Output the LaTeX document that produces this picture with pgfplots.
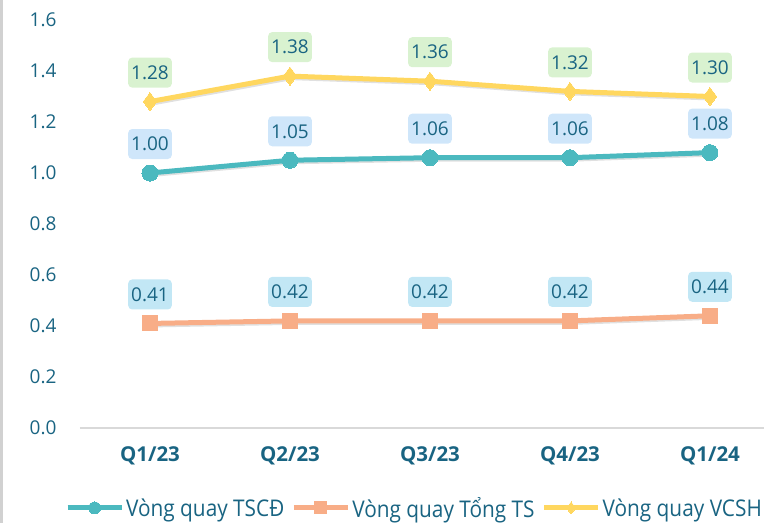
\documentclass[border=0pt]{standalone}
\usepackage{pgfplots}
\pgfplotsset{compat=1.18}
\usepackage{fontspec}
\setmainfont{Open Sans}
\newfontfamily\legfont[FakeStretch=0.905]{Open Sans}

\definecolor{txt}{HTML}{196482}
\definecolor{cteal}{HTML}{4BB9BF}
\definecolor{corange}{HTML}{F8AD87}
\definecolor{cyellow}{HTML}{FFD75F}
\definecolor{boxgreen}{HTML}{D9F2D0}
\definecolor{boxblue}{HTML}{CFE6FA}
\definecolor{boxcyan}{HTML}{C2E7F5}

\pgfplotsset{
  lbl/.style={
    nodes near coords,
    point meta=y,
    nodes near coords style={
      /pgf/number format/.cd, fixed, fixed zerofill, precision=2, assume math mode=true,
      /tikz/.cd,
      fill=#1, rounded corners=4pt, text=txt, anchor=south, yshift=14pt,
      font=\fontsize{19}{21}\selectfont, minimum height=30pt, inner xsep=3pt,
      opacity=1,
    },
  },
  shadowline/.style={forget plot, black, opacity=0.12, line width=5pt, xshift=1.5pt, yshift=-1.5pt, mark=none},
}

\begin{document}
\begin{tikzpicture}[x=1pt,y=1pt]
\useasboundingbox (0,0) rectangle (764,523);
\fill[black!18] (0,0) rectangle (3,523);
\begin{axis}[
    at={(80pt,95pt)}, anchor=south west,
    scale only axis,
    width=684pt, height=408pt,
    xmin=-0.5, xmax=4.386,
    ymin=0, ymax=1.6,
    axis x line*=bottom,
    axis y line*=left,
    x axis line style={draw=black!15, line width=1.5pt, -},
    y axis line style={draw=none},
    major tick length=0pt,
    xtick={0,1,2,3,4},
    xticklabels={Q1/23,Q2/23,Q3/23,Q4/23,Q1/24},
    xticklabel style={font=\bfseries\fontsize{20.5}{22}\selectfont, text=txt, yshift=-15pt},
    ytick={0,0.2,0.4,0.6,0.8,1.0,1.2,1.4,1.6},
    yticklabel style={font=\fontsize{19}{21}\selectfont, text=txt, xshift=-20pt,
      /pgf/number format/.cd, fixed, fixed zerofill, precision=1, assume math mode=true},
    clip=false,
    legend columns=3,
    legend style={at={(axis description cs:0.489,-0.196)}, anchor=center, draw=none,
      font=\legfont\fontsize{23}{25}\selectfont, text=txt, inner sep=0pt,
      /tikz/every even column/.append style={column sep=5pt}},
    legend cell align=left,
    legend image code/.code={
      \draw[mark repeat=2, mark phase=2, #1, mark size=6pt]
        plot coordinates {(0pt,0pt) (27pt,0pt) (54pt,0pt)};
    },
]

% shadows
\addplot[shadowline] coordinates {(0,1.00) (1,1.05) (2,1.06) (3,1.06) (4,1.08)};
\addplot[shadowline] coordinates {(0,0.41) (1,0.42) (2,0.42) (3,0.42) (4,0.44)};
\addplot[shadowline] coordinates {(0,1.28) (1,1.38) (2,1.36) (3,1.32) (4,1.30)};

% Vong quay TSCD
\addplot[cteal, line width=5pt, mark=*, mark size=8pt, mark options={line width=0pt, fill=cteal}, lbl=boxblue]
coordinates {(0,1.00) (1,1.05) (2,1.06) (3,1.06) (4,1.08)};
\addlegendentry{Vòng quay TSCĐ}

% Vong quay Tong TS
\addplot[corange, line width=5pt, mark=square*, mark size=7.5pt, mark options={line width=0pt, fill=corange, rounded corners=2pt}, lbl=boxcyan]
coordinates {(0,0.41) (1,0.42) (2,0.42) (3,0.42) (4,0.44)};
\addlegendentry{Vòng quay Tổng TS}

% Vong quay VCSH
\addplot[cyellow, line width=5pt, mark=diamond*, mark size=9pt, mark options={line width=0pt, fill=cyellow}, lbl=boxgreen]
coordinates {(0,1.28) (1,1.38) (2,1.36) (3,1.32) (4,1.30)};
\addlegendentry{Vòng quay VCSH}

\end{axis}
\end{tikzpicture}
\end{document}
